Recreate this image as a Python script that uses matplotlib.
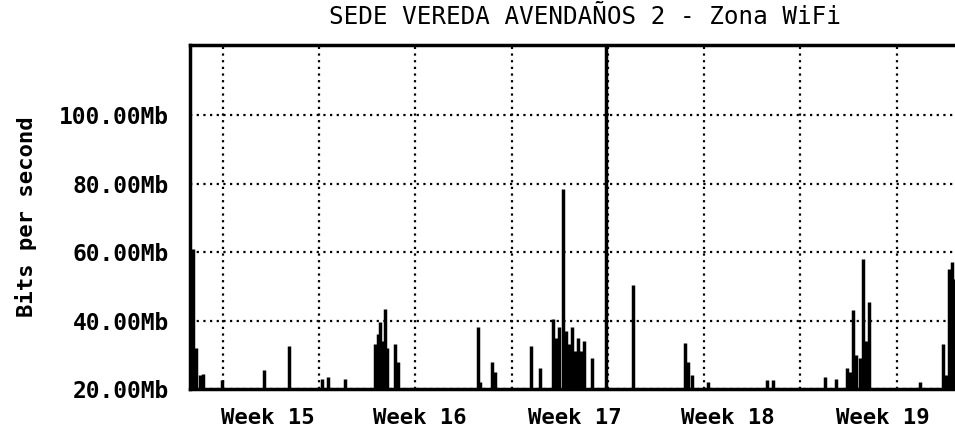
import matplotlib
matplotlib.use("Agg")
import matplotlib.pyplot as plt

# Datos (x en dias desde el borde izquierdo, y en Mb)
dias = [0.12, 0.25, 0.45, 0.60, 1.46, 3.39, 4.53, 6.04, 6.31, 7.09,
        8.46, 8.60, 8.69, 8.78, 8.92, 9.01, 9.38, 9.52,
        13.18, 13.27, 13.82, 13.95, 15.60, 16.01,
        16.61, 16.74, 16.88, 17.07, 17.20, 17.34, 17.48, 17.61, 17.75, 17.89, 18.03,
        18.39, 19.03, 20.27, 22.65, 22.79, 22.97, 23.70, 26.40, 26.67,
        29.05, 29.56, 30.06, 30.20, 30.33, 30.47, 30.65, 30.79, 30.93, 31.07,
        33.40, 34.45, 34.59, 34.73, 34.86, 34.98]
trafico = [61, 32, 24, 24.5, 22.5, 25.5, 32.5, 23, 23.5, 23,
           33, 36, 39.6, 34, 43.5, 32, 33, 28,
           38, 22, 28, 25, 32.5, 26,
           40.5, 35, 38, 78.5, 37, 33, 38, 31, 35, 31, 34,
           29, 121, 50.5, 33.5, 28, 24, 22, 22.5, 22.5,
           23.5, 23, 26, 25, 43, 30, 29, 58, 34, 45.5,
           22, 33, 24, 55, 57, 52]

semanas = ["Week 15", "Week 16", "Week 17", "Week 18", "Week 19"]
pos_semanas = [3.57, 10.52, 17.6, 24.6, 31.7]
rejilla_x = [1.50, 5.90, 10.31, 14.72, 19.12, 23.53, 27.93, 32.34]
ticks_y = [20, 40, 60, 80, 100]
etiquetas_y = ["20.00Mb", "40.00Mb", "60.00Mb", "80.00Mb", "100.00Mb"]

fuente = "DejaVu Sans Mono"

fig = plt.figure(figsize=(9.55, 4.43), dpi=100)
ax = fig.add_axes([0.199, 0.122, 0.801, 0.776])

ax.vlines(dias, 20, trafico, colors="black", linewidth=2.5)

ax.set_xlim(0, 35)
ax.set_ylim(20, 120.5)

ax.set_xticks(pos_semanas)
ax.set_xticklabels(semanas, fontfamily=fuente, fontsize=16, fontweight="bold")
ax.set_xticks(rejilla_x, minor=True)
ax.set_yticks(ticks_y)
ax.set_yticklabels(etiquetas_y, fontfamily=fuente, fontsize=16.5, fontweight="bold")
ax.tick_params(axis="both", which="both", length=0)
ax.tick_params(axis="x", pad=14)
ax.tick_params(axis="y", pad=15)

ax.grid(True, axis="x", which="minor", color="black", linestyle=(0, (1, 2)), linewidth=1.6)
ax.grid(True, axis="y", which="major", color="black", linestyle=(0, (1, 2)), linewidth=1.6)
ax.grid(False, axis="x", which="major")
ax.set_axisbelow(True)

for lado in ["left", "top", "bottom"]:
    ax.spines[lado].set_linewidth(2.5)
ax.spines["right"].set_visible(False)

ax.set_ylabel("Bits per second", fontfamily=fuente, fontsize=16, fontweight="bold")
ax.yaxis.set_label_coords(-0.2, 0.5)
fig.text(0.612, 0.962, "SEDE VEREDA AVENDAÑOS 2 - Zona WiFi", ha="center", va="center",
         fontfamily=fuente, fontsize=17.5)

fig.savefig("out.png", dpi=100)
